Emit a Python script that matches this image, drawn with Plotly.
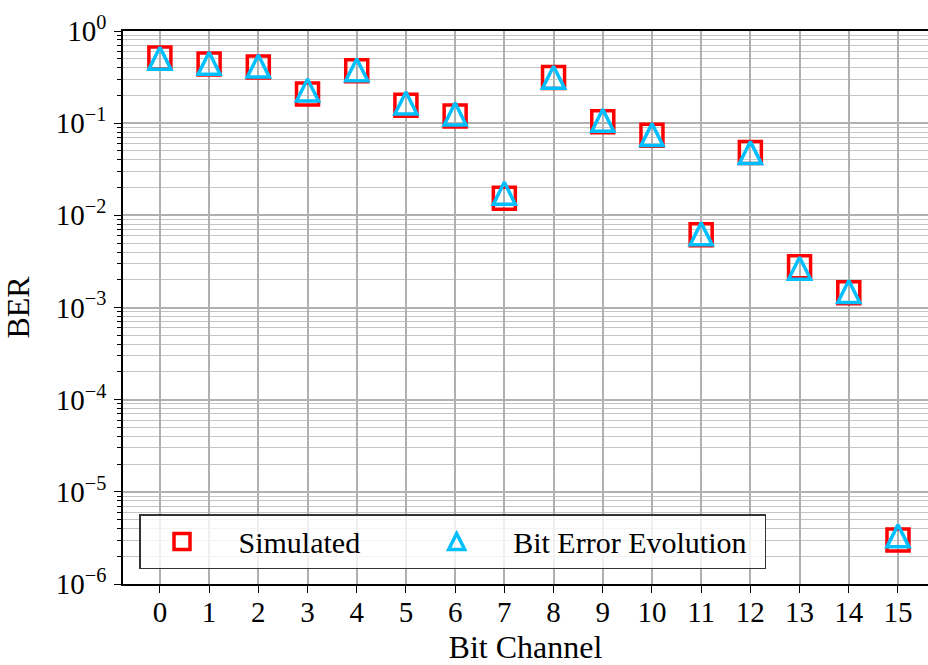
import plotly.graph_objects as go

# Bit error rate per bit channel
channels = list(range(16))
ber_simulated = [0.509, 0.438, 0.407, 0.207, 0.371, 0.156, 0.1196, 0.0153,
                 0.313, 0.1037, 0.0739, 0.00617, 0.0481, 0.00277, 0.00145, 3.0e-6]
ber_evolution = [0.506, 0.446, 0.417, 0.229, 0.380, 0.1655, 0.1257, 0.01734,
                 0.3145, 0.1074, 0.0753, 0.00632, 0.0481, 0.00266, 0.00149, 3.33e-6]

decades = [-6, -5, -4, -3, -2, -1, 0]
decade_labels = ["10<sup>−6</sup>", "10<sup>−5</sup>", "10<sup>−4</sup>", "10<sup>−3</sup>",
                 "10<sup>−2</sup>", "10<sup>−1</sup>", "10<sup>0</sup>"]

FONT = "Liberation Serif"
RED = "#ff0000"
CYAN = "#00bfff"
GRID = "#b0b0b0"
NB = "\u00a0"
SIX = "\u2006"

major_vals = [10.0 ** d for d in decades]
minor_vals = [m * 10.0 ** d for d in decades[:-1] for m in range(2, 10)]

fig = go.Figure()

fig.add_trace(go.Scatter(
    x=channels, y=ber_simulated, mode="markers",
    name=NB * 2 + "Simulated" + NB * 6 + SIX,
    marker=dict(symbol="square-open", size=22, color=RED, line=dict(width=3.5, color=RED)),
))

# Upward triangle centred on the point: a flipped down-arrow pushed back by half its size
TRI_SIZE = 22
fig.add_trace(go.Scatter(
    x=channels, y=ber_evolution, mode="markers", name="Bit Error Evolution",
    showlegend=False,
    marker=dict(symbol="arrow-down-open", size=TRI_SIZE, angle=180, standoff=TRI_SIZE / 2,
                color=CYAN, line=dict(width=3.5, color=CYAN)),
))

# Legend key for the triangle series (legend markers are capped at 16 px,
# and legend standoff is applied in the opposite direction)
fig.add_trace(go.Scatter(
    x=[None], y=[None], mode="markers",
    name=NB * 2 + "Bit Error Evolution" + NB + SIX,
    marker=dict(symbol="arrow-up-open", size=16, standoff=8,
                color=CYAN, line=dict(width=3.5, color=CYAN)),
))

fig.update_layout(
    width=928, height=665,
    margin=dict(l=123, r=0, t=31, b=81),
    paper_bgcolor="white", plot_bgcolor="white",
    font=dict(family=FONT, color="black", size=29),
    showlegend=True,
    legend=dict(
        orientation="h", x=0.0199, y=0.027, xanchor="left", yanchor="bottom",
        bgcolor="rgba(255,255,255,0.8)", bordercolor="#333333", borderwidth=1.5,
        font=dict(family=FONT, size=30, color="black"),
        itemwidth=73,
    ),
)

fig.update_xaxes(
    range=[-0.75, 15.61], tickmode="array", tickvals=channels,
    ticktext=[str(c) for c in channels],
    showgrid=True, gridcolor=GRID, gridwidth=1.5,
    ticks="outside", ticklen=7, tickwidth=1.3, tickcolor="black",
    showline=True, linecolor="black", linewidth=1.5, mirror=True, zeroline=False,
    tickfont=dict(family=FONT, size=29), ticklabelstandoff=-6,
    title=dict(text="Bit Channel", font=dict(family=FONT, size=32), standoff=14),
)

fig.update_yaxes(
    type="log", range=[-6, 0], tickmode="array", tickvals=major_vals, ticktext=decade_labels,
    showgrid=True, gridcolor=GRID, gridwidth=1.5,
    ticks="outside", ticklen=7, tickwidth=1.3, tickcolor="black",
    showline=True, linecolor="black", linewidth=1.5, mirror=False, zeroline=False,
    tickfont=dict(family=FONT, size=29), ticklabelstandoff=2,
    minor=dict(tickvals=minor_vals, ticks="outside", ticklen=4, tickwidth=1.1,
               tickcolor="black", showgrid=True, gridcolor="#c4c4c4", gridwidth=1.2),
    title=dict(text="BER", font=dict(family=FONT, size=32), standoff=22),
)

fig.write_html("out.html")
